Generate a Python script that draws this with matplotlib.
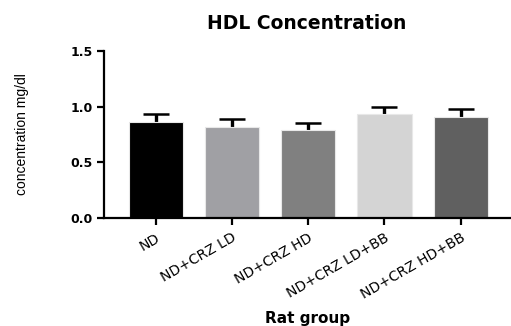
import numpy as np
import matplotlib
matplotlib.use('Agg')
import matplotlib.pyplot as plt

groups = ['ND', 'ND+CRZ LD', 'ND+CRZ HD', 'ND+CRZ LD+BB', 'ND+CRZ HD+BB']
means = [0.865, 0.82, 0.79, 0.935, 0.91]
errs = [0.065, 0.07, 0.065, 0.065, 0.07]
colors = ['#000000', '#a0a0a4', '#808080', '#d4d4d4', '#606060']
yticks = [0.0, 0.5, 1.0, 1.5]

plt.rcParams['font.family'] = ['DejaVu Sans']

fig = plt.figure(figsize=(5.11, 3.26), dpi=100)
ax = fig.add_axes([0.2035, 0.331, 0.795, 0.5126])

x = np.arange(len(groups))
ax.bar(x, means, width=0.71, color=colors, edgecolor='#e8e8e8', linewidth=0.8, zorder=2)
eb = ax.errorbar(x, means, yerr=[np.zeros(len(errs)), errs], fmt='none', ecolor='black',
                 elinewidth=2.4, capsize=9.5, capthick=1.8, zorder=1)
# only the upper cap is shown
eb[1][0].set_visible(False)

ax.set_xlim(-0.68, 4.65)
ax.set_ylim(0, 1.5)
ax.set_yticks(yticks)
ax.set_yticklabels(['%.1f' % v for v in yticks], fontsize=9, fontweight='bold')
ax.set_xticks(x)
ax.set_xticklabels(groups, rotation=30, ha='right', rotation_mode='anchor', fontsize=10)
ax.tick_params(axis='both', width=1.6, length=5, direction='out')
ax.tick_params(axis='x', pad=4)
ax.tick_params(axis='y', pad=3)

for s in ['top', 'right']:
    ax.spines[s].set_visible(False)
for s in ['left', 'bottom']:
    ax.spines[s].set_linewidth(1.6)

ax.set_title('HDL Concentration', fontsize=13.5, fontweight='bold', pad=16)
ax.set_xlabel('Rat group', fontsize=11, fontweight='bold')
ax.xaxis.set_label_coords(0.5, -0.555)
ax.set_ylabel('concentration mg/dl', fontsize=10, family=['Liberation Sans Narrow', 'Liberation Sans'])
ax.yaxis.set_label_coords(-0.185, 0.5)

fig.savefig('out.png', dpi=100)
